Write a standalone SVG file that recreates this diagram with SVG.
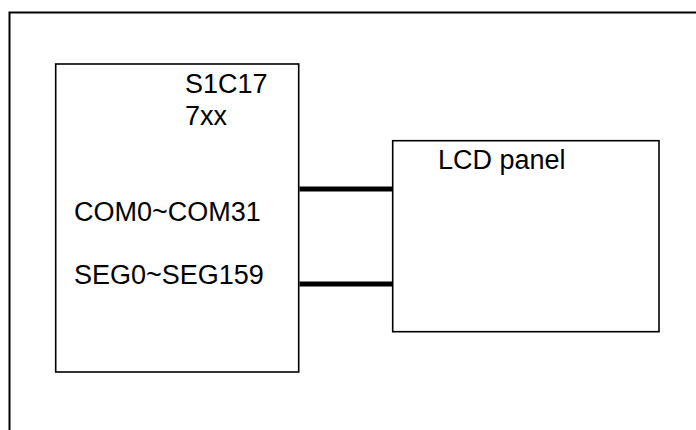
<svg xmlns="http://www.w3.org/2000/svg" width="696" height="430" viewBox="0 0 696 430">
<style>
.box{fill:#fff;stroke:#000;stroke-width:1.6}
.t{font-family:"Liberation Sans",Arial,sans-serif;font-size:27px;fill:#000}
.wire{stroke:#000;stroke-width:5;fill:none}
</style>
<rect width="696" height="430" fill="#fff"/>
<path d="M9.5 440 V12.5 H710" fill="none" stroke="#000" stroke-width="2"/>
<g id="mcu">
<rect class="box" x="55.7" y="64" width="243" height="308"/>
<text class="t" x="185" y="93">S1C17</text>
<text class="t" x="185" y="125">7xx</text>
<text class="t" x="74" y="221">COM0~COM31</text>
<text class="t" x="74" y="284">SEG0~SEG159</text>
</g>
<g id="lcd">
<rect class="box" x="392.7" y="140.7" width="266.3" height="191"/>
<text class="t" x="438" y="169">LCD panel</text>
</g>
<g id="connectors">
<line class="wire" x1="299.5" y1="189" x2="392" y2="189"/>
<line class="wire" x1="299.5" y1="284" x2="392" y2="284"/>
</g>
</svg>
